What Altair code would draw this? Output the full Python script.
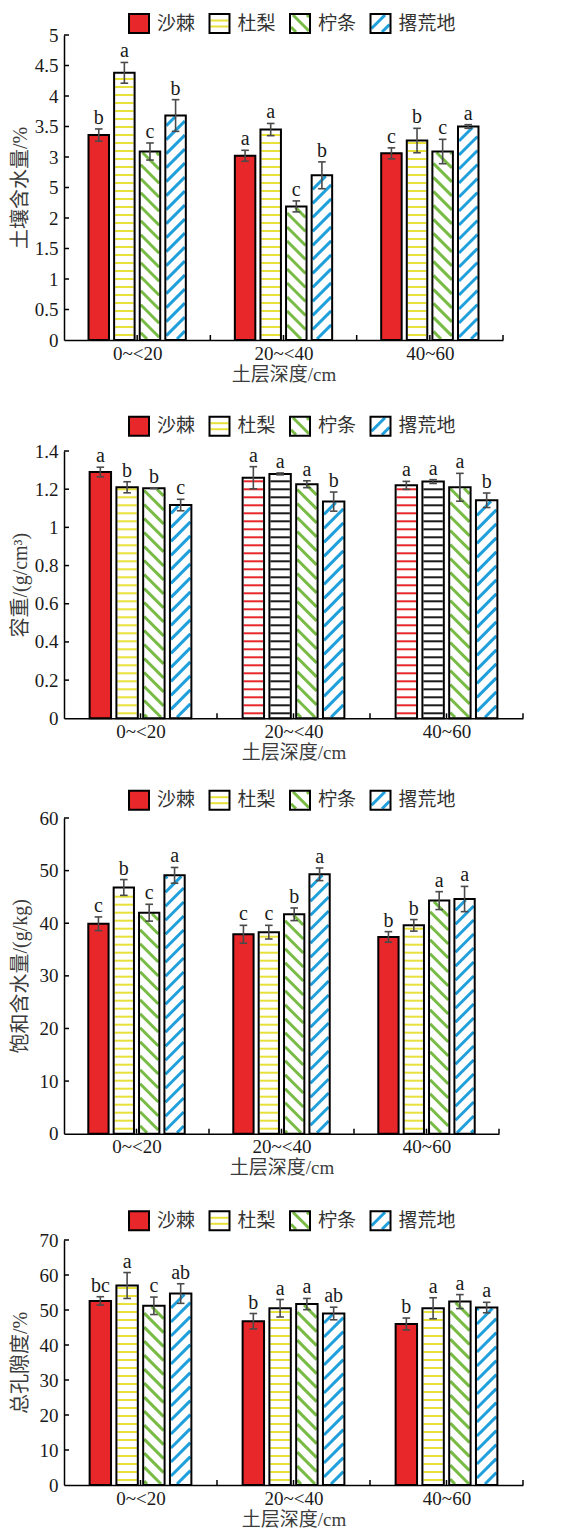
import json
import numpy as np
import pandas as pd
import altair as alt

# ---------------- data ----------------
DEPTHS = ["0~<20", "20~<40", "40~60"]
SPECIES = ["沙棘", "杜梨", "柠条", "撂荒地"]
X_TITLE = "土层深度/cm"
Y_TITLES = ["土壤含水量/%", "容重/(g/cm³)", "饱和含水量/(g/kg)", "总孔隙度/%"]

# values[species][depth]
MOISTURE = [[3.36, 3.02, 3.06], [4.38, 3.45, 3.27], [3.09, 2.19, 3.09], [3.68, 2.70, 3.50]]
MOISTURE_ERR = [[0.10, 0.09, 0.09], [0.17, 0.10, 0.20], [0.14, 0.09, 0.20], [0.26, 0.22, 0.03]]
MOISTURE_SIG = [["b", "a", "c"], ["a", "a", "b"], ["c", "c", "c"], ["b", "b", "a"]]

BULK = [[1.29, 1.26, 1.22], [1.21, 1.28, 1.24], [1.205, 1.226, 1.21], [1.117, 1.135, 1.142]]
BULK_ERR = [[0.025, 0.058, 0.021], [0.029, 0.005, 0.010], [0.002, 0.018, 0.073], [0.030, 0.050, 0.038]]
BULK_SIG = [["a", "a", "a"], ["b", "a", "a"], ["b", "a", "a"], ["c", "b", "b"]]

SAT = [[39.9, 37.9, 37.4], [46.8, 38.3, 39.6], [42.0, 41.7, 44.3], [49.1, 49.3, 44.6]]
SAT_ERR = [[1.3, 1.7, 1.0], [1.5, 1.3, 1.1], [1.6, 1.2, 1.7], [1.5, 1.2, 2.4]]
SAT_SIG = [["c", "c", "b"], ["b", "c", "b"], ["c", "b", "a"], ["a", "a", "a"]]

POR = [[52.6, 46.8, 46.0], [57.0, 50.5, 50.5], [51.2, 51.7, 52.4], [54.7, 49.0, 50.7]]
POR_ERR = [[1.2, 2.2, 1.7], [3.7, 2.5, 3.0], [2.5, 1.6, 2.0], [2.8, 1.8, 1.5]]
POR_SIG = [["bc", "b", "b"], ["a", "a", "a"], ["c", "a", "a"], ["ab", "ab", "a"]]

Y_TICKS = [
    [0, 0.5, 1, 1.5, 2, 2.5, 3, 3.5, 4, 4.5, 5],
    [0, 0.2, 0.4, 0.6, 0.8, 1, 1.2, 1.4],
    [0, 10, 20, 30, 40, 50, 60],
    [0, 10, 20, 30, 40, 50, 60, 70],
]
Y_LABELS = [
    ["0", "0.5", "1", "1.5", "2", "5", "3", "3.5", "4", "4.5", "5"],
    ["0", "0.2", "0.4", "0.6", "0.8", "1", "1.2", "1.4"],
    ["0", "10", "20", "30", "40", "50", "60"],
    ["0", "10", "20", "30", "40", "50", "60", "70"],
]
PANEL_DATA = [
    (MOISTURE, MOISTURE_ERR, MOISTURE_SIG),
    (BULK, BULK_ERR, BULK_SIG),
    (SAT, SAT_ERR, SAT_SIG),
    (POR, POR_ERR, POR_SIG),
]

# ---------------- styles / layout ----------------
RED, YELLOW, GREEN, BLUE, INK = "#e8272a", "#e7e13a", "#78bb45", "#1f9fdc", "#1a1a1a"
SPECIES_STYLE = [("solid", "red"), ("h", "yellow"), ("bs", "green"), ("fs", "blue")]
# panel 2, deeper layers use striped red / black bars
P2_OVERRIDE = {(1, 0): ("h", "red"), (2, 0): ("h", "red"), (1, 1): ("h", "black"), (2, 1): ("h", "black")}
FILL_DOMAIN, FILL_RANGE = ["solid", "white"], [RED, "white"]
HATCH_DOMAIN = ["yellow", "green", "blue", "red", "black"]
HATCH_RANGE = [YELLOW, GREEN, BLUE, RED, INK]

SERIF = "Liberation Serif, Noto Sans CJK SC"
PLOT_TOP = [34, 450, 816, 1237.3]
PLOT_H = [305, 267.3, 315.7, 245]
PLOT_W = [439, 459, 435, 459]
LEG_TOP = [13, 415.7, 789, 1209]
SW_W, SW_H, LEG_STEP, LEG_X0, LEG_TXT = 20, 19, 80.5, 65, 28
BAR_W, BAR_STEP, CAP = 0.14, 0.175, 3.8
EB_COLOR = "#4a4a4a"


def style_for(p, d, s):
    if p == 1 and (d, s) in P2_OVERRIDE:
        return P2_OVERRIDE[(d, s)]
    return SPECIES_STYLE[s]


def hatch(kind, xl, xr, yb, yt, kx, ky, hstep=8.0, hstart=4.0, dstep=14.0, inset=1.0):
    XL, XR = xl * kx + inset, xr * kx - inset
    YB, YT = yb * ky + inset, yt * ky - inset
    out = []
    if XR <= XL or YT <= YB:
        return out
    if kind == "h":
        Y = YB + hstart
        while Y < YT - 0.5:
            out.append((XL, Y, XR, Y))
            Y += hstep
    elif kind == "fs":  # "/"
        c = np.floor((YB - XR) / dstep) * dstep
        while c <= YT - XL:
            a, b = max(XL, YB - c), min(XR, YT - c)
            if b - a > 0.8:
                out.append((a, a + c, b, b + c))
            c += dstep
    elif kind == "bs":  # "\"
        c = np.floor((XL + YB) / dstep) * dstep
        while c <= XR + YT:
            a, b = max(XL, c - YT), min(XR, c - YB)
            if b - a > 0.8:
                out.append((a, c - a, b, c - b))
            c += dstep
    return [(p_ / kx, q / ky, r / kx, t / ky) for p_, q, r, t in out]


def seg_frame(segs):
    return pd.DataFrame(segs, columns=["x1", "y1", "x2", "y2", "ck"]) if segs else \
        pd.DataFrame({"x1": [], "y1": [], "x2": [], "y2": [], "ck": []})


def stroke_enc():
    return alt.Stroke("ck:N", scale=alt.Scale(domain=HATCH_DOMAIN, range=HATCH_RANGE), legend=None)


def fill_enc():
    return alt.Fill("fillkey:N", scale=alt.Scale(domain=FILL_DOMAIN, range=FILL_RANGE), legend=None)


def build_panel(p):
    vals, errs, sigs = PANEL_DATA[p]
    W, H = PLOT_W[p], PLOT_H[p]
    ymax = Y_TICKS[p][-1]
    kx, ky = W / 3.0, H / ymax
    rows, hsegs, dsegs = [], [], []
    for s in range(4):
        for d in range(3):
            kind, col = style_for(p, d, s)
            xc = d + 0.5 + (s - 1.5) * BAR_STEP
            xl, xr = xc - BAR_W / 2, xc + BAR_W / 2
            v, e = vals[s][d], errs[s][d]
            rows.append(dict(xl=xl, xr=xr, xc=xc, v=v, y0=0.0, lo=v - e, hi=v + e,
                             cl=xc - CAP / kx, cr=xc + CAP / kx, sig=sigs[s][d],
                             fillkey="solid" if kind == "solid" else "white"))
            for seg in hatch(kind, xl, xr, 0.0, v, kx, ky):
                (hsegs if kind == "h" else dsegs).append(seg + (col,))
    df = pd.DataFrame(rows)
    hdf, ddf = seg_frame(hsegs), seg_frame(dsegs)

    xs = alt.Scale(domain=[0, 3], nice=False, zero=False)
    ys = alt.Scale(domain=[0, ymax], nice=False, zero=True)
    x_labels = json.dumps(DEPTHS)
    x_axis = alt.Axis(values=[0.5, 1.5, 2.5], labelExpr=f"{x_labels}[floor(datum.value)]",
                      ticks=False, grid=False, domainColor="black", domainWidth=1.5,
                      labelFont=SERIF, labelFontSize=19, labelColor=INK, labelPadding=4,
                      title=X_TITLE, titleFont=SERIF, titleFontSize=19, titleFontWeight="normal",
                      titleColor="#3c3c3c", titlePadding=2)
    y_axis = alt.Axis(values=Y_TICKS[p],
                      labelExpr=f"{json.dumps(Y_LABELS[p])}[indexof({json.dumps(Y_TICKS[p])}, datum.value)]",
                      ticks=False, grid=False, domainColor="black", domainWidth=1.5,
                      labelFont=SERIF, labelFontSize=19, labelColor=INK, labelPadding=6,
                      title=Y_TITLES[p], titleFont=SERIF, titleFontSize=20, titleFontWeight="normal",
                      titleColor="#3c3c3c", titleX=-43.5, titleBaseline="middle")

    def X(field):
        return alt.X(field, type="quantitative", scale=xs, axis=x_axis)

    def Y(field):
        return alt.Y(field, type="quantitative", scale=ys, axis=y_axis)

    base = alt.Chart(df)
    fill = base.mark_rect(strokeWidth=0).encode(
        x=X("xl"), x2="xr", y=Y("v"), y2="y0", fill=fill_enc())
    hl = alt.Chart(hdf).mark_rule(strokeWidth=2, strokeCap="butt").encode(
        x=X("x1"), x2="x2", y=Y("y1"), y2="y2", stroke=stroke_enc())
    dl = alt.Chart(ddf).mark_rule(strokeWidth=3, strokeCap="butt").encode(
        x=X("x1"), x2="x2", y=Y("y1"), y2="y2", stroke=stroke_enc())
    outline = base.mark_rect(fillOpacity=0, stroke="black", strokeWidth=2).encode(
        x=X("xl"), x2="xr", y=Y("v"), y2="y0")
    eb = base.mark_rule(color=EB_COLOR, strokeWidth=1.6).encode(
        x=X("xc"), y=Y("lo"), y2="hi")
    cap_hi = base.mark_rule(color=EB_COLOR, strokeWidth=1.6).encode(
        x=X("cl"), x2="cr", y=Y("hi"))
    cap_lo = base.mark_rule(color=EB_COLOR, strokeWidth=1.6).encode(
        x=X("cl"), x2="cr", y=Y("lo"))
    letters = base.mark_text(baseline="alphabetic", dy=-5, fontSize=20, font=SERIF, color=INK).encode(
        x=X("xc"), y=Y("hi"), text="sig:N")
    yt = alt.Chart(pd.DataFrame({"t": Y_TICKS[p][1:]})).mark_rule(color="black", strokeWidth=1.5).encode(
        y=Y("t"), x=alt.value(0), x2=alt.value(5))
    xt = alt.Chart(pd.DataFrame({"t": [0.5, 1, 1.5, 2, 2.5, 3]})).mark_rule(color="black", strokeWidth=1.5).encode(
        x=X("t"), y=alt.value(H), y2=alt.value(H - 5))
    return alt.layer(fill, hl, dl, outline, eb, cap_hi, cap_lo, letters, yt, xt).properties(width=W, height=H)


def build_legend(p):
    prev_bottom = LEG_TOP[0] if p == 0 else PLOT_TOP[p - 1] + PLOT_H[p - 1]
    height = PLOT_TOP[p] - prev_bottom
    top = LEG_TOP[p] - prev_bottom
    lx = alt.Scale(domain=[0, 1], range=[LEG_X0, LEG_X0 + LEG_STEP])
    ly = alt.Scale(domain=[0, 1], range=[top + SW_H, top])
    rows, hsegs, dsegs = [], [], []
    for i, name in enumerate(SPECIES):
        kind, col = SPECIES_STYLE[i]
        xl, xr = float(i), i + SW_W / LEG_STEP
        rows.append(dict(xl=xl, xr=xr, yb=0.0, yt=1.0, tx=i + LEG_TXT / LEG_STEP, ty=0.5,
                         name=name, fillkey="solid" if kind == "solid" else "white"))
        for seg in hatch(kind, xl, xr, 0.0, 1.0, LEG_STEP, SW_H, hstep=6.0, hstart=5.5, dstep=14.0):
            (hsegs if kind == "h" else dsegs).append(seg + (col,))
    df = pd.DataFrame(rows)
    base = alt.Chart(df)
    fill = base.mark_rect(strokeWidth=0).encode(
        x=alt.X("xl:Q", scale=lx, axis=None), x2="xr",
        y=alt.Y("yb:Q", scale=ly, axis=None), y2="yt", fill=fill_enc())
    hl = alt.Chart(seg_frame(hsegs)).mark_rule(strokeWidth=2, strokeCap="butt").encode(
        x=alt.X("x1:Q", scale=lx, axis=None), x2="x2",
        y=alt.Y("y1:Q", scale=ly, axis=None), y2="y2", stroke=stroke_enc())
    dl = alt.Chart(seg_frame(dsegs)).mark_rule(strokeWidth=3, strokeCap="butt").encode(
        x=alt.X("x1:Q", scale=lx, axis=None), x2="x2",
        y=alt.Y("y1:Q", scale=ly, axis=None), y2="y2", stroke=stroke_enc())
    outline = base.mark_rect(fillOpacity=0, stroke="black", strokeWidth=2).encode(
        x=alt.X("xl:Q", scale=lx, axis=None), x2="xr",
        y=alt.Y("yb:Q", scale=ly, axis=None), y2="yt")
    text = base.mark_text(align="left", baseline="middle", fontSize=19, font=SERIF, color="#333333").encode(
        x=alt.X("tx:Q", scale=lx, axis=None), y=alt.Y("ty:Q", scale=ly, axis=None), text="name:N")
    return alt.layer(fill, hl, dl, outline, text).properties(width=PLOT_W[p], height=height)


charts = []
for p in range(4):
    charts.append(build_legend(p))
    charts.append(build_panel(p))

chart = alt.vconcat(*charts, spacing=0, bounds="flush").configure_view(stroke=None).properties(
    padding={"left": 10, "top": 13, "right": 5, "bottom": 0})

chart.save("out.html", embed_options={"renderer": "svg", "actions": False})
